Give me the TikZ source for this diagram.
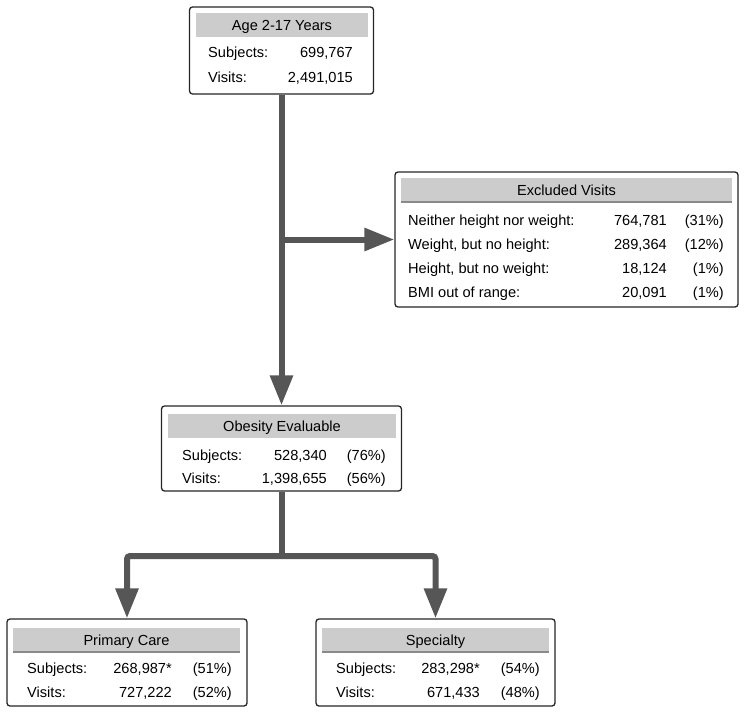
\documentclass[tikz,border=0pt]{standalone}
\usepackage{fontspec}
\setmainfont{Liberation Sans}
\usetikzlibrary{arrows.meta}
\usetikzlibrary{positioning}
\definecolor{flowgray}{HTML}{565656}
\definecolor{headgray}{HTML}{CCCCCC}
\definecolor{rulegray}{HTML}{8A8A8A}

\begin{document}
\begin{tikzpicture}[x=1pt, y=-1pt,
    font=\fontsize{14.6}{17}\selectfont,
    box/.style={draw=black!85, line width=1.3pt, rounded corners=3pt, fill=white, inner sep=0pt},
    head/.style={fill=headgray, inner sep=0pt, text height=10.5pt, text depth=0pt},
    txt/.style={inner sep=0pt},
    flow/.style={draw=flowgray, line width=6pt, rounded corners=3pt, -{Triangle[width=22pt,length=30pt]}},
    stem/.style={draw=flowgray, line width=6pt}]

\useasboundingbox (0,0) rectangle (747,715);

% age 2-17
\node[box, minimum width=184pt, minimum height=87pt] (age) at (281.5,50.5) {};
\node[head, minimum width=172pt, minimum height=24pt] (agehead) at (282,25) {Age 2-17 Years};
\node[txt, anchor=base west] (agesubj) at (208,57.5) {Subjects:};
\node[txt, anchor=base east] (agesubjn) at (353,57.5) {699,767};
\node[txt, anchor=base west] (agevis) at (208,82.5) {Visits:};
\node[txt, anchor=base east] (agevisn) at (353,82.5) {2,491,015};

% excluded visits
\node[box, minimum width=343pt, minimum height=135pt] (excl) at (566.5,239.5) {};
\node[head, minimum width=331pt, minimum height=24pt] (exclhead) at (566.5,190) {Excluded Visits};
\draw[rulegray, line width=2pt] (exclhead.south west) -- (exclhead.south east);
\node[txt, anchor=base west] (exnone) at (408,225) {Neither height nor weight:};
\node[txt, anchor=base east] (exnonen) at (667,225) {764,781};
\node[txt, anchor=base east] (exnonep) at (724,225) {(31\%)};
\node[txt, anchor=base west] (exweight) at (408,249) {Weight, but no height:};
\node[txt, anchor=base east] (exweightn) at (667,249) {289,364};
\node[txt, anchor=base east] (exweightp) at (724,249) {(12\%)};
\node[txt, anchor=base west] (exheight) at (408,273) {Height, but no weight:};
\node[txt, anchor=base east] (exheightn) at (667,273) {18,124};
\node[txt, anchor=base east] (exheightp) at (724,273) {(1\%)};
\node[txt, anchor=base west] (exbmi) at (408,297) {BMI out of range:};
\node[txt, anchor=base east] (exbmin) at (667,297) {20,091};
\node[txt, anchor=base east] (exbmip) at (724,297) {(1\%)};

% obesity evaluable
\node[box, minimum width=240pt, minimum height=85pt] (obes) at (281.5,448.5) {};
\node[head, minimum width=228pt, minimum height=24pt] (obeshead) at (282,426) {Obesity Evaluable};
\node[txt, anchor=base west] (obessubj) at (182,460) {Subjects:};
\node[txt, anchor=base east] (obessubjn) at (327,460) {528,340};
\node[txt, anchor=base east] (obessubjp) at (386,460) {(76\%)};
\node[txt, anchor=base west] (obesvis) at (182,483) {Visits:};
\node[txt, anchor=base east] (obesvisn) at (327,483) {1,398,655};
\node[txt, anchor=base east] (obesvisp) at (386,483) {(56\%)};

% primary care
\node[box, minimum width=240pt, minimum height=87pt] (prim) at (127,662.5) {};
\node[head, minimum width=227pt, minimum height=24pt] (primhead) at (126.5,640) {Primary Care};
\draw[rulegray, line width=2pt] (primhead.south west) -- (primhead.south east);
\node[txt, anchor=base west] (primsubj) at (27,673) {Subjects:};
\node[txt, anchor=base east] (primsubjn) at (172,673) {268,987*};
\node[txt, anchor=base east] (primsubjp) at (232,673) {(51\%)};
\node[txt, anchor=base west] (primvis) at (27,697) {Visits:};
\node[txt, anchor=base east] (primvisn) at (172,697) {727,222};
\node[txt, anchor=base east] (primvisp) at (232,697) {(52\%)};

% specialty
\node[box, minimum width=239pt, minimum height=87pt] (spec) at (435.5,662.5) {};
\node[head, minimum width=227pt, minimum height=24pt] (spechead) at (435.5,640) {Specialty};
\draw[rulegray, line width=2pt] (spechead.south west) -- (spechead.south east);
\node[txt, anchor=base west] (specsubj) at (336,673) {Subjects:};
\node[txt, anchor=base east] (specsubjn) at (480,673) {283,298*};
\node[txt, anchor=base east] (specsubjp) at (540,673) {(54\%)};
\node[txt, anchor=base west] (specvis) at (336,697) {Visits:};
\node[txt, anchor=base east] (specvisn) at (480,697) {671,433};
\node[txt, anchor=base east] (specvisp) at (540,697) {(48\%)};

% arrows
\coordinate (split) at (281.5,239.5);
\coordinate (fork) at (281.5,556);
\draw[flow] (age) -- (obes);
\draw[flow] (split) -- (excl);
\draw[stem] (obes) -- ([yshift=-3pt]fork);
\draw[flow] (fork) -| (prim);
\draw[flow] (fork) -| (spec);
\end{tikzpicture}
\end{document}
